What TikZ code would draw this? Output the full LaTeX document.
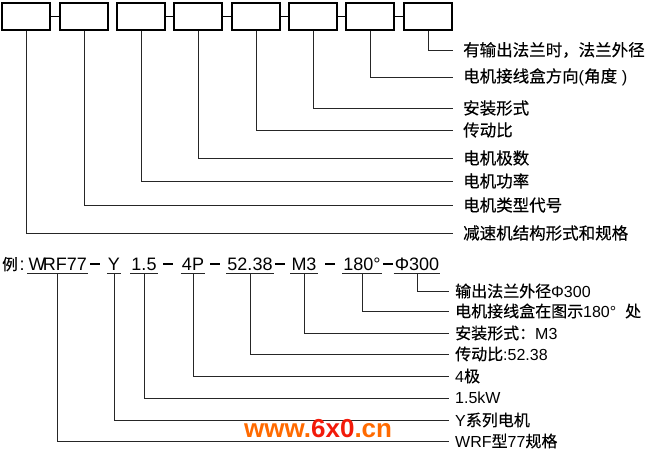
\documentclass[tikz,border=0pt]{standalone}
\usepackage{fontspec}
\setmainfont{Liberation Sans}
\newfontfamily\cjk[FakeBold=0.4]{Noto Sans CJK SC}
\definecolor{wmorange}{HTML}{FF6A00}
\definecolor{wmred}{HTML}{F21A0A}

\begin{document}
\begin{tikzpicture}[x=1pt, y=-1pt,
    codebox/.style={draw, line width=1.2pt, minimum width=48pt, minimum height=27pt, inner sep=0pt},
    lbl/.style={anchor=west, inner xsep=10pt, inner ysep=0pt, font=\fontsize{16.5}{19}\selectfont},
    sublbl/.style={anchor=west, inner xsep=6pt, inner ysep=0pt, font=\fontsize{16}{19}\selectfont},
    part/.style={anchor=base, inner xsep=1pt, inner ysep=1.5pt, text height=13pt, text depth=2pt, font=\fontsize{18}{21}\selectfont},
    lead/.style={line width=0.8pt, black!85}]
  \useasboundingbox (0,0) rectangle (650,451);

  % Code boxes
  \foreach \i/\x in {1/26,2/84,3/141,4/198,5/256,6/313,7/370,8/428}
    \node[codebox] (b\i) at (\x,16.5) {};
  \foreach \a/\b in {1/2,3/4,4/5,5/6,6/7,7/8}
    \draw[line width=1.2pt] (b\a.east) -- (b\b.west);

  % Box meanings
  \node[lbl] (l8) at (453,50) {\cjk 有输出法兰时，法兰外径};
  \node[lbl] (l7) at (453,77) {{\cjk 电机接线盒方向}({\cjk 角度} )};
  \node[lbl] (l6) at (453,108) {\cjk 安装形式};
  \node[lbl] (l5) at (453,130) {\cjk 传动比};
  \node[lbl] (l4) at (453,158) {\cjk 电机极数};
  \node[lbl] (l3) at (453,181) {\cjk 电机功率};
  \node[lbl] (l2) at (453,205) {\cjk 电机类型代号};
  \node[lbl] (l1) at (453,233) {\cjk 减速机结构形式和规格};
  \foreach \i in {1,...,8}
    \draw[lead] (b\i.south) |- (l\i.west);

  % Example code
  \node[part, anchor=base west, inner xsep=0pt] (ex) at (2,270) {{\cjk\fontsize{15.5}{18}\selectfont 例}\hspace{2pt}:};
  \node[part] (w) at (37,270) {W};
  \node[part] (rf) at (65,270) {RF77};
  \node[part] (y) at (114,270) {Y};
  \node[part] (kw) at (144,270) {1.5};
  \node[part] (p) at (193,270) {4P};
  \node[part] (r) at (250,270) {52.38};
  \node[part] (m) at (304,270) {M3};
  \node[part] (deg) at (362,270) {180°};
  \node[part] (fl) at (417,270) {Φ300};
  \foreach \n/\x in {d1/95,d2/168,d3/215,d4/280,d5/330,d6/388}
    \node[part] (\n) at (\x,270) {\rule[5.5pt]{10pt}{1.3pt}};
  \foreach \n in {w,rf,y,kw,p,r,m,deg,fl}
    \draw[lead] (\n.south west) -- (\n.south east);

  % Example meanings
  \node[sublbl] (m8) at (449,291) {{\cjk 输出法兰外径}Φ300};
  \node[sublbl] (m7) at (449,311) {{\cjk 电机接线盒在图示}180°\ \ {\cjk 处}};
  \node[sublbl] (m6) at (449,333) {{\cjk 安装形式：}M3};
  \node[sublbl] (m5) at (449,354) {{\cjk 传动比}:52.38};
  \node[sublbl] (m4) at (449,376) {4{\cjk 极}};
  \node[sublbl] (m3) at (449,398) {1.5kW};
  \node[sublbl] (m2) at (449,420) {Y{\cjk 系列电机}};
  \node[sublbl] (m1) at (449,441) {WRF{\cjk 型}77{\cjk 规格}};
  \draw[lead] (fl.south) |- (m8.west);
  \draw[lead] (deg.south) |- (m7.west);
  \draw[lead] (m.south) |- (m6.west);
  \draw[lead] (r.south) |- (m5.west);
  \draw[lead] (p.south) |- (m4.west);
  \draw[lead] (kw.south) |- (m3.west);
  \draw[lead] (y.south) |- (m2.west);
  \draw[lead] ([xshift=-8pt]rf.south) |- (m1.west);

  % Site mark
  \node[anchor=base west, inner sep=0pt, font=\fontsize{26}{30}\selectfont\bfseries] (site) at (244,437)
    {\textcolor{wmorange}{www.}\textcolor{wmred}{6x0}\textcolor{wmorange}{.cn}};
\end{tikzpicture}
\end{document}
